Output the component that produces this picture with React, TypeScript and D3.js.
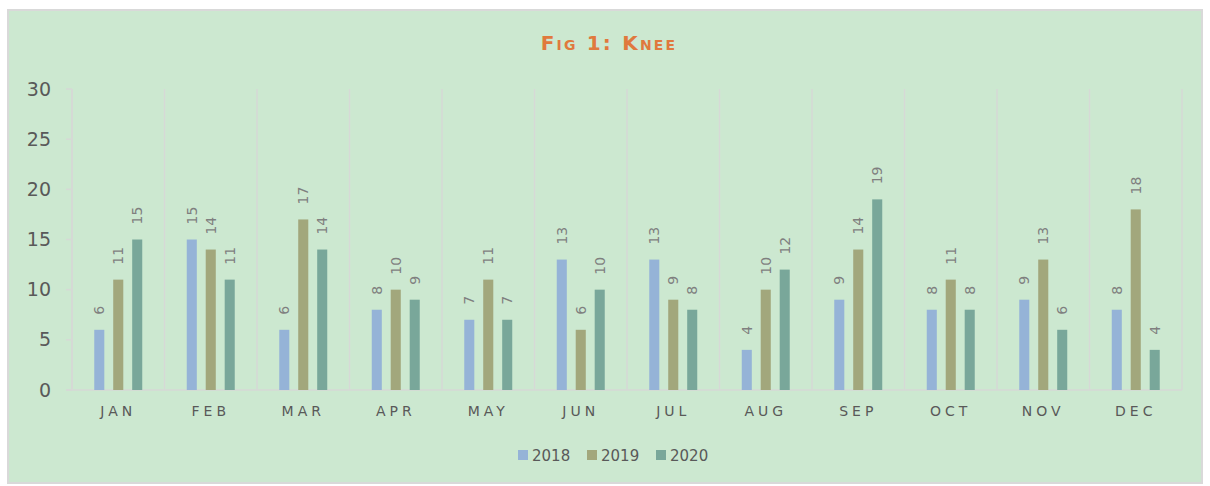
import { useMemo } from "react";
import * as d3 from "d3";

const W = 1210;
const H = 486;
const MARGIN = { top: 89, right: 28, bottom: 96, left: 72 };

const months = ["JAN", "FEB", "MAR", "APR", "MAY", "JUN", "JUL", "AUG", "SEP", "OCT", "NOV", "DEC"];
const years = ["2018", "2019", "2020"];
const v2018 = [6, 15, 6, 8, 7, 13, 13, 4, 9, 8, 9, 8];
const v2019 = [11, 14, 17, 10, 11, 6, 9, 10, 14, 11, 13, 18];
const v2020 = [15, 11, 14, 9, 7, 10, 8, 12, 19, 8, 6, 4];
const yTicks = [0, 5, 10, 15, 20, 25, 30];

const COLORS: Record<string, string> = {
  "2018": "#95b3d7",
  "2019": "#a2a77c",
  "2020": "#79a79a",
};

const FONT = "'DejaVu Sans', sans-serif";
const GRID = "#d6d9d6";

export default function App() {
  const series = [v2018, v2019, v2020];
  const innerW = W - MARGIN.left - MARGIN.right;
  const innerH = H - MARGIN.top - MARGIN.bottom;

  const { x, xi, y } = useMemo(() => {
    const x = d3.scaleBand().domain(months).range([0, innerW]).padding(0);
    // bars are 10px wide with 9px between them, group ~48px
    const xi = d3
      .scaleBand()
      .domain(years)
      .range([x.bandwidth() / 2 - 24, x.bandwidth() / 2 + 24])
      .paddingInner(0.47);
    const y = d3.scaleLinear().domain([0, 30]).range([innerH, 0]);
    return { x, xi, y };
  }, [innerW, innerH]);

  return (
    <div style={{ position: "fixed", left: 0, top: 0 }}>
      <svg width={W} height={H} style={{ display: "block" }}>
        <rect x={0} y={0} width={W} height={H} fill="#ffffff" />
        <rect x={8} y={10} width={1194} height={473} fill="#cce8d0" stroke="#d9d9d9" strokeWidth={2} />
        {/* title */}
        <text
          x={609}
          y={50}
          textAnchor="middle"
          fontFamily={FONT}
          fontSize={20}
          fontWeight="bold"
          fill="#e0793d"
          letterSpacing={2.2}
          style={{ fontVariant: "small-caps" }}
        >
          Fig 1: Knee
        </text>
        <g transform={`translate(${MARGIN.left},${MARGIN.top})`}>
          {/* vertical gridlines at category boundaries */}
          {months.map((m) => (
            <line key={`g-${m}`} x1={x(m)!} x2={x(m)!} y1={0} y2={innerH} stroke={GRID} strokeWidth={1.5} />
          ))}
          <line x1={innerW} x2={innerW} y1={0} y2={innerH} stroke={GRID} strokeWidth={1.5} />
          {/* y ticks */}
          {yTicks.map((t) => (
            <g key={`ty-${t}`} transform={`translate(0,${y(t)})`}>
              <line x1={-6} x2={0} stroke={GRID} strokeWidth={1.5} />
              <text
                x={-21}
                dy="0.35em"
                textAnchor="end"
                fontFamily={FONT}
                fontSize={19}
                fill="#595959"
              >
                {t}
              </text>
            </g>
          ))}
          <line x1={0} x2={0} y1={0} y2={innerH} stroke={GRID} strokeWidth={1.5} />
          <line x1={-6} x2={innerW} y1={innerH} y2={innerH} stroke={GRID} strokeWidth={1.5} />
          {/* bars */}
          {months.map((m, i) => (
            <g key={`b-${m}`} transform={`translate(${x(m)},0)`}>
              {years.map((yr, s) => {
                const v = series[s][i];
                const bx = xi(yr)!;
                const bw = xi.bandwidth();
                return (
                  <g key={yr}>
                    <rect x={bx} y={y(v)} width={bw} height={innerH - y(v)} fill={COLORS[yr]} />
                    <text
                      transform={`translate(${bx + bw / 2},${y(v) - 15}) rotate(-90)`}
                      dy="0.35em"
                      textAnchor="start"
                      fontFamily={FONT}
                      fontSize={14}
                      fill="#7f7f7f"
                    >
                      {v}
                    </text>
                  </g>
                );
              })}
              <text
                x={x.bandwidth() / 2}
                y={innerH + 26}
                textAnchor="middle"
                fontFamily={FONT}
                fontSize={14}
                letterSpacing={4}
                fill="#595959"
              >
                {m}
              </text>
            </g>
          ))}
        </g>
        {/* legend */}
        <g transform="translate(518,450)">
          {years.map((yr, i) => (
            <g key={`l-${yr}`} transform={`translate(${i * 69},0)`}>
              <rect x={0} y={0} width={10} height={10} fill={COLORS[yr]} />
              <text x={14} y={5} dy="0.37em" fontFamily={FONT} fontSize={15} fill="#595959">
                {yr}
              </text>
            </g>
          ))}
        </g>
      </svg>
    </div>
  );
}
